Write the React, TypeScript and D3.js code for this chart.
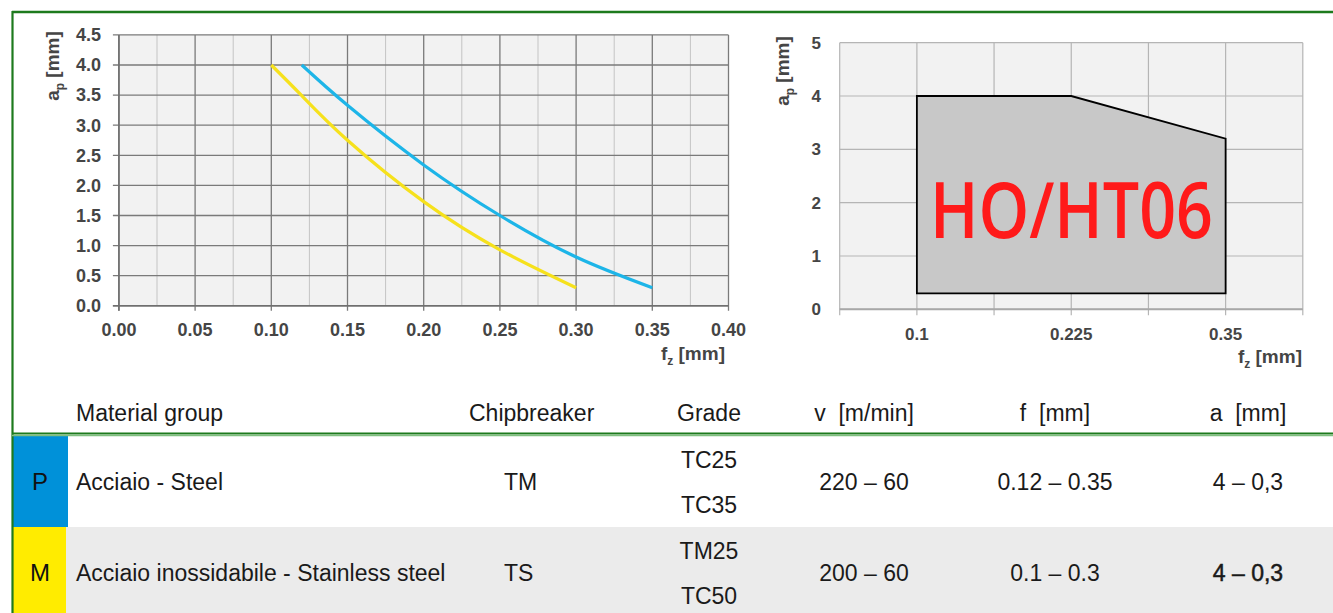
import React from "react";
import * as d3 from "d3";

// ---------- Data ----------
// Left chart: ap vs fz curves
const leftXTicks = [0, 0.05, 0.1, 0.15, 0.2, 0.25, 0.3, 0.35, 0.4];
const leftXMinor = [0.025, 0.075, 0.125, 0.175, 0.225, 0.275, 0.325, 0.375];
const leftYTicks = [0, 0.5, 1, 1.5, 2, 2.5, 3, 3.5, 4, 4.5];

// P – steel (blue)
const steelFz = [0.12, 0.15, 0.2, 0.25, 0.3, 0.35];
const steelAp = [4.0, 3.33, 2.34, 1.5, 0.81, 0.3];
// M – stainless (yellow)
const stainFz = [0.1, 0.12, 0.15, 0.2, 0.25, 0.3];
const stainAp = [4.0, 3.49, 2.75, 1.73, 0.93, 0.3];

// Right chart: application window
const rightXGrid = [0.0375, 0.1, 0.1625, 0.225, 0.2875, 0.35, 0.4125];
const rightXLabels = [0.1, 0.225, 0.35];
const rightYTicks = [0, 1, 2, 3, 4, 5];
const windowFz = [0.1, 0.1, 0.225, 0.35, 0.35];
const windowAp = [0.3, 4, 4, 3.2, 0.3];
const windowLabel = "HO/HT06";

// Table
const headers = ["Material group", "Chipbreaker", "Grade", "v  [m/min]", "f  [mm]", "a  [mm]"];
const isoCodes = ["P", "M"];
const isoColors = ["#0091d9", "#ffec00"];
const materials = ["Acciaio - Steel", "Acciaio inossidabile - Stainless steel"];
const chipbreakers = ["TM", "TS"];
const grades = [["TC25", "TC35"], ["TM25", "TC50"]];
const speeds = ["220 – 60", "200 – 60"];
const feeds = ["0.12 – 0.35", "0.1 – 0.3"];
const depths = ["4 – 0,3", "4 – 0,3"];

const GREEN = "#1d7a1d";
const AXIS_TXT = "#454545";
const TICK_FONT = "'Liberation Sans', Arial, sans-serif";

export default function App() {
  // Left chart scales
  const lx = d3.scaleLinear().domain([0, 0.4]).range([118.9, 728.5]);
  const ly = d3.scaleLinear().domain([0, 4.5]).range([305.8, 34.9]);
  const line = d3
    .line<[number, number]>()
    .x((d) => lx(d[0]))
    .y((d) => ly(d[1]))
    .curve(d3.curveNatural);
  const steelPts = steelFz.map((f, i) => [f, steelAp[i]] as [number, number]);
  const stainPts = stainFz.map((f, i) => [f, stainAp[i]] as [number, number]);

  // Right chart scales
  const rx = d3.scaleLinear().domain([0.0375, 0.4125]).range([839.7, 1302.8]);
  const ry = d3.scaleLinear().domain([0, 5]).range([309.3, 42.7]);
  const polyPts = windowFz.map((f, i) => `${rx(f)},${ry(windowAp[i])}`).join(" ");

  // Table geometry
  const headerY = 413;
  const rowTop = [436, 527];
  const rowH = [91, 90];
  const codeW = [55, 53];
  const tableFont = "'Liberation Sans', Arial, sans-serif";
  const colX = { mat: 76, chip: 504, grade: 709, v: 864, f: 1055, a: 1248 };
  const headerX = [76, 469, 709, 864, 1055, 1248];

  return (
    <svg
      width={1333}
      height={613}
      style={{ position: "absolute", left: 0, top: 0, background: "#fff" }}
      fontFamily={TICK_FONT}
    >
      {/* ---------- Left chart ---------- */}
      <rect x={lx(0)} y={ly(4.5)} width={lx(0.4) - lx(0)} height={ly(0) - ly(4.5)} fill="#f2f2f2" />
      {leftXMinor.map((t) => (
        <line key={"lm" + t} x1={lx(t)} x2={lx(t)} y1={ly(0)} y2={ly(4.5)} stroke="#c4c4c4" strokeWidth={1} />
      ))}
      {leftYTicks.map((t) => (
        <line key={"lh" + t} x1={lx(0) - 6} x2={lx(0.4)} y1={ly(t)} y2={ly(t)} stroke="#7a7a7a" strokeWidth={1.3} />
      ))}
      {leftXTicks.map((t) => (
        <line key={"lv" + t} x1={lx(t)} x2={lx(t)} y1={ly(0) + 5} y2={ly(4.5)} stroke="#7a7a7a" strokeWidth={1.3} />
      ))}
      <line x1={lx(0)} x2={lx(0)} y1={ly(0) + 5} y2={ly(4.5)} stroke="#6f6f6f" strokeWidth={1.6} />
      <line x1={lx(0) - 6} x2={lx(0.4)} y1={ly(0)} y2={ly(0)} stroke="#6f6f6f" strokeWidth={1.6} />
      <path d={line(stainPts) || ""} fill="none" stroke="#f6e11c" strokeWidth={3.2} />
      <path d={line(steelPts) || ""} fill="none" stroke="#1db5e8" strokeWidth={3.2} />
      {leftYTicks.map((t) => (
        <text key={"lyt" + t} x={101} y={ly(t)} dy="0.35em" textAnchor="end" fontSize={18} fontWeight="bold" fill={AXIS_TXT}>
          {t.toFixed(1)}
        </text>
      ))}
      {leftXTicks.map((t) => (
        <text key={"lxt" + t} x={lx(t)} y={336} textAnchor="middle" fontSize={18} fontWeight="bold" fill={AXIS_TXT}>
          {t.toFixed(2)}
        </text>
      ))}
      <text transform="translate(59,66) rotate(-90)" textAnchor="middle" fontSize={19} fontWeight="bold" fill={AXIS_TXT}>
        a<tspan fontSize={12} dy={5}>p</tspan>
        <tspan dy={-5}> [mm]</tspan>
      </text>
      <text x={725} y={360} textAnchor="end" fontSize={19} fontWeight="bold" fill={AXIS_TXT}>
        f<tspan fontSize={12} dy={5}>z</tspan>
        <tspan dy={-5}> [mm]</tspan>
      </text>

      {/* ---------- Right chart ---------- */}
      <rect x={rx(0.0375)} y={ry(5)} width={rx(0.4125) - rx(0.0375)} height={ry(0) - ry(5)} fill="#f2f2f2" />
      {rightYTicks.map((t) => (
        <line key={"rh" + t} x1={rx(0.0375)} x2={rx(0.4125)} y1={ry(t)} y2={ry(t)} stroke="#b5b5b5" strokeWidth={1.2} />
      ))}
      {rightXGrid.map((t) => (
        <line key={"rv" + t} x1={rx(t)} x2={rx(t)} y1={ry(0) + 6} y2={ry(5)} stroke="#b5b5b5" strokeWidth={1.2} />
      ))}
      <line x1={rx(0.0375)} x2={rx(0.4125)} y1={ry(0)} y2={ry(0)} stroke="#a8a8a8" strokeWidth={2} />
      <polygon points={polyPts} fill="#c8c8c8" stroke="#000" strokeWidth={1.8} />
      <text
        x={930}
        y={238}
        fontSize={77}
        fontWeight={600}
        fontFamily="'Open Sans', 'Liberation Sans', sans-serif"
        fill="#ff1a1a"
        textLength={283}
        lengthAdjust="spacingAndGlyphs"
      >
        {windowLabel}
      </text>
      {rightYTicks.map((t) => (
        <text key={"ryt" + t} x={821} y={ry(t)} dy="0.35em" textAnchor="end" fontSize={17} fontWeight="bold" fill={AXIS_TXT}>
          {t}
        </text>
      ))}
      {rightXLabels.map((t) => (
        <text key={"rxt" + t} x={rx(t)} y={340} textAnchor="middle" fontSize={17} fontWeight="bold" fill={AXIS_TXT}>
          {String(t)}
        </text>
      ))}
      <text transform="translate(789,71) rotate(-90)" textAnchor="middle" fontSize={19} fontWeight="bold" fill={AXIS_TXT}>
        a<tspan fontSize={12} dy={5}>p</tspan>
        <tspan dy={-5}> [mm]</tspan>
      </text>
      <text x={1302} y={363} textAnchor="end" fontSize={19} fontWeight="bold" fill={AXIS_TXT}>
        f<tspan fontSize={12} dy={5}>z</tspan>
        <tspan dy={-5}> [mm]</tspan>
      </text>

      {/* ---------- Table ---------- */}
      <rect x={13} y={rowTop[1]} width={1320} height={rowH[1]} fill="#ebebeb" />
      {isoCodes.map((c, i) => (
        <g key={c}>
          <rect x={13} y={rowTop[i]} width={codeW[i]} height={rowH[i]} fill={isoColors[i]} />
          <text x={40} y={rowTop[i] + 46} dy="0.35em" textAnchor="middle" fontSize={24} fontFamily={tableFont} fill="#111">
            {c}
          </text>
          <text x={colX.mat} y={rowTop[i] + 46} dy="0.35em" fontSize={23} fontFamily={tableFont} fill="#1a1a1a">
            {materials[i]}
          </text>
          <text x={colX.chip} y={rowTop[i] + 46} dy="0.35em" fontSize={23} fontFamily={tableFont} fill="#1a1a1a">
            {chipbreakers[i]}
          </text>
          {grades[i].map((g, j) => (
            <text key={g} x={colX.grade} y={rowTop[i] + 24 + j * 45} dy="0.35em" textAnchor="middle" fontSize={23} fontFamily={tableFont} fill="#1a1a1a">
              {g}
            </text>
          ))}
          <text x={colX.v} y={rowTop[i] + 46} dy="0.35em" textAnchor="middle" fontSize={23} fontFamily={tableFont} fill="#1a1a1a">
            {speeds[i]}
          </text>
          <text x={colX.f} y={rowTop[i] + 46} dy="0.35em" textAnchor="middle" fontSize={23} fontFamily={tableFont} fill="#1a1a1a">
            {feeds[i]}
          </text>
          <text
            x={colX.a}
            y={rowTop[i] + 46}
            dy="0.35em"
            textAnchor="middle"
            fontSize={23}
            fontFamily={tableFont}
            fill="#1a1a1a"
            stroke={i === 1 ? "#1a1a1a" : "none"}
            strokeWidth={i === 1 ? 0.5 : 0}
          >
            {depths[i]}
          </text>
        </g>
      ))}
      {headers.map((h, i) => (
        <text
          key={h}
          x={headerX[i]}
          y={headerY}
          dy="0.35em"
          textAnchor={i <= 1 ? "start" : "middle"}
          fontSize={23}
          fontFamily={tableFont}
          fill="#1a1a1a"
          style={{ whiteSpace: "pre" }}
        >
          {h}
        </text>
      ))}

      {/* ---------- Green frame ---------- */}
      <line x1={12} x2={1333} y1={12} y2={12} stroke={GREEN} strokeWidth={2.5} />
      <line x1={12.5} x2={12.5} y1={11} y2={613} stroke={GREEN} strokeWidth={2.2} />
      <line x1={12} x2={1333} y1={433.5} y2={433.5} stroke={GREEN} strokeWidth={2} />
      <line x1={12} x2={1333} y1={435.5} y2={435.5} stroke="#7fbf7f" strokeWidth={1.5} />
    </svg>
  );
}
